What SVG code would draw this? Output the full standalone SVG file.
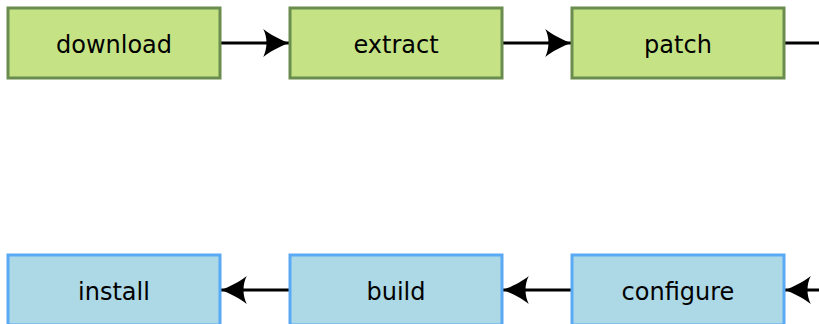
<svg xmlns="http://www.w3.org/2000/svg" width="819" height="324" viewBox="0 0 819 324">
<style>
.g rect{fill:#c5e384;stroke:#6b8c4f;stroke-width:3}
.b rect{fill:#add8e6;stroke:#5aa9f5;stroke-width:3}
text{font-family:"DejaVu Sans",sans-serif;font-size:24px;fill:#000;text-anchor:middle;dominant-baseline:central}
.c{fill:none;stroke:#000;stroke-width:3}
</style>
<defs>
<marker id="ah" markerUnits="userSpaceOnUse" markerWidth="30" markerHeight="30" viewBox="-26 -14 28 28" refX="0" refY="0" orient="auto">
<path d="M0,0 C-8,-3 -18,-8 -24,-13 C-20,-5 -20,5 -24,13 C-18,8 -8,3 0,0 z" fill="#000"/>
</marker>
</defs>
<g id="connectors">
<path class="c" d="M220,43 H289" marker-end="url(#ah)"/>
<path class="c" d="M502,43 H571" marker-end="url(#ah)"/>
<path class="c" d="M784,43 H821.2 V290 H785" marker-end="url(#ah)"/>
<path class="c" d="M572,290 H503" marker-end="url(#ah)"/>
<path class="c" d="M290,290 H221" marker-end="url(#ah)"/>
</g>
<g id="download" class="g"><rect x="8" y="8" width="212" height="70"/><text x="114" y="45">download</text></g>
<g id="extract" class="g"><rect x="290" y="8" width="212" height="70"/><text x="396" y="45">extract</text></g>
<g id="patch" class="g"><rect x="572" y="8" width="212" height="70"/><text x="678" y="45">patch</text></g>
<g id="install" class="b"><rect x="8" y="255" width="212" height="70"/><text x="114" y="292">install</text></g>
<g id="build" class="b"><rect x="290" y="255" width="212" height="70"/><text x="396" y="292">build</text></g>
<g id="configure" class="b"><rect x="572" y="255" width="212" height="70"/><text x="678" y="292">configure</text></g>
</svg>
